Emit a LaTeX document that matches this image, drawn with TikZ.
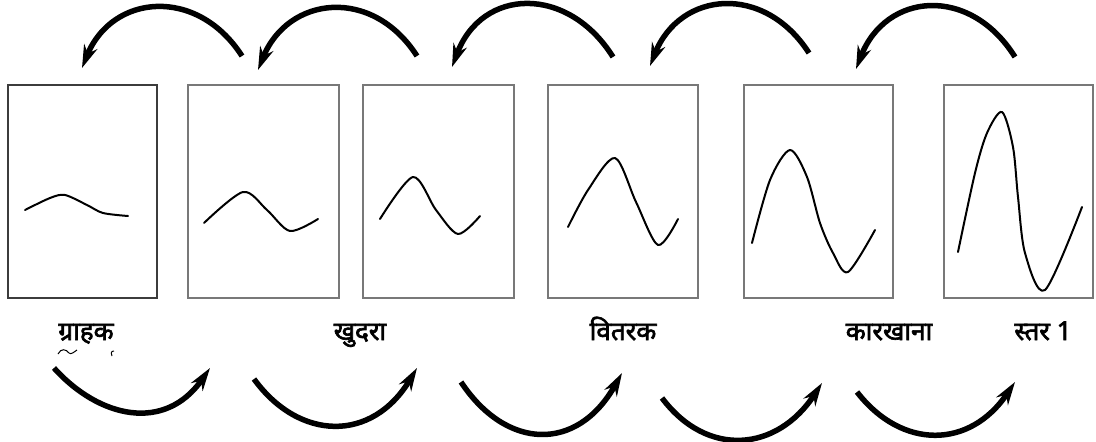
\documentclass[tikz,border=0pt]{standalone}
\usepackage{fontspec}
\usepackage{xcolor}
\usepackage{tikz}
\usetikzlibrary{arrows.meta}
\newfontfamily\deva[Script=Devanagari,AutoFakeBold=2.5]{Noto Sans}
\definecolor{framedark}{RGB}{60, 60, 60}
\definecolor{framegray}{RGB}{120, 120, 120}
\tikzset{
  panel/.style={framegray,line width=2.5pt},
  wave/.style={black,line width=2pt,line cap=round,line join=round},
  flowarrow/.style={black,line width=5.5pt,-{Stealth[length=23pt,width=14pt]}},
  stagename/.style={font=\deva\bfseries\fontsize{26}{30}\selectfont,anchor=base}
}

\begin{document}
\begin{tikzpicture}[x=1pt,y=-1pt]
\useasboundingbox (0,0) rectangle (1096,442);
\draw[panel,framedark] (8,85) rectangle (157,298);
\draw[panel] (188,85) rectangle (339,298);
\draw[panel] (363,85) rectangle (514,298);
\draw[panel] (548,85) rectangle (698,298);
\draw[panel] (744,85) rectangle (893,298);
\draw[panel] (944,85) rectangle (1093,298);
\draw[wave] plot[smooth] coordinates {(25,210) (50,198) (65,195) (87,205) (103,213) (128,216)};
\draw[wave] plot[smooth] coordinates {(204,223) (243,192) (267,210) (290,231) (318,219)};
\draw[wave] plot[smooth] coordinates {(380,219) (413,177) (436,210) (458,234) (480,216)};
\draw[wave] plot[smooth] coordinates {(568,227) (588,190) (615,158) (636,202) (658,245) (678,219)};
\draw[wave] plot[smooth] coordinates {(752,243) (770,180) (790,150) (807,177) (820,223) (833,253) (848,272) (875,230)};
\draw[wave] plot[smooth] coordinates {(958,252) (975,173) (987,133) (1002,112) (1013,147) (1018,197) (1025,253) (1045,290) (1082,207)};
\coordinate (t1s) at (242,56);
\coordinate (t1e) at (82,68);
\coordinate (t2s) at (417,56);
\coordinate (t2e) at (258,70);
\coordinate (t3s) at (613,57);
\coordinate (t3e) at (452,67);
\coordinate (t4s) at (809,53);
\coordinate (t4e) at (650,66);
\coordinate (t5s) at (1015,57);
\coordinate (t5e) at (856,69);
\draw[flowarrow] (t1s) .. controls +(-45,-70) and +(30,-74) .. (t1e);
\draw[flowarrow] (t2s) .. controls +(-45,-70) and +(30,-74) .. (t2e);
\draw[flowarrow] (t3s) .. controls +(-45,-72) and +(30,-80) .. (t3e);
\draw[flowarrow] (t4s) .. controls +(-45,-70) and +(30,-75) .. (t4e);
\draw[flowarrow] (t5s) .. controls +(-45,-72) and +(30,-77) .. (t5e);
\coordinate (b1s) at (54,368);
\coordinate (b1e) at (210,368);
\coordinate (b2s) at (254,379);
\coordinate (b2e) at (417,368);
\coordinate (b3s) at (461,382);
\coordinate (b3e) at (622,373);
\coordinate (b4s) at (662,398);
\coordinate (b4e) at (822,383);
\coordinate (b5s) at (857,392);
\coordinate (b5e) at (1015,382);
\draw[flowarrow] (b1s) .. controls +(45,50) and +(-45,65) .. (b1e);
\draw[flowarrow] (b2s) .. controls +(45,62) and +(-45,75) .. (b2e);
\draw[flowarrow] (b3s) .. controls +(45,68) and +(-45,80) .. (b3e);
\draw[flowarrow] (b4s) .. controls +(45,60) and +(-45,69) .. (b4e);
\draw[flowarrow] (b5s) .. controls +(45,58) and +(-45,67) .. (b5e);
\node[stagename] (grahak) at (86,340) {ग्राहक};
\node[stagename] (khudra) at (360,340) {खुदरा};
\node[stagename] (vitrak) at (623,340) {वितरक};
\node[stagename] (karkhana) at (889,340) {कारखाना};
\node[stagename] (star) at (1043,340) {स्तर 1};
\draw[black,line width=1pt] (58,354) .. controls (61,348) and (66,349) .. (69,353) .. controls (71,355) and (74,352) .. (77,350);
\draw[black,line width=1pt] (114,351) .. controls (111,351) and (111,353) .. (112,356);
\end{tikzpicture}
\end{document}
